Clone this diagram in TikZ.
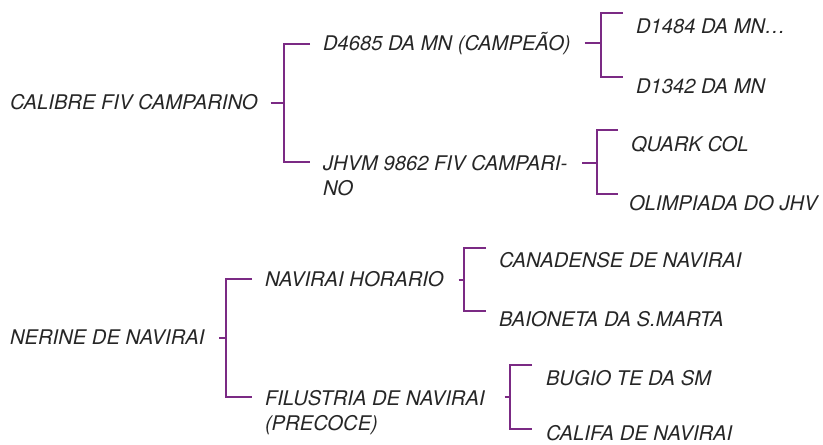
\documentclass[tikz,border=0pt]{standalone}
\usepackage{fontspec}
\setmainfont{TeX Gyre Heros}
\usepackage{tikz}
\definecolor{treepurple}{HTML}{7B2A84}
\tikzset{every node/.style={font=\fontsize{20.2}{25}\selectfont\itshape,
    text=black!85, inner sep=0pt, outer sep=0pt},
  lbl/.style={anchor=west},
  lbltwo/.style={anchor=north west, align=left},
  brk/.style={draw=treepurple, line width=2.8pt, line join=miter}}

\begin{document}
\begin{tikzpicture}[x=1pt,y=-1pt]
  \useasboundingbox (0,0) rectangle (823,445);
  % first tree
  \node[lbl] (cal) at (10,102) {CALIBRE FIV CAMPARINO};
  \node[lbl] (d4685) at (323,44) {D4685 DA MN (CAMPEÃO)};
  \node[lbltwo] (jhvm) at (323,155) {JHVM 9862 FIV CAMPARI-\\NO};
  \node[lbl] (d1484) at (636,26) {D1484 DA MN…};
  \node[lbl] (d1342) at (636,86) {D1342 DA MN};
  \node[lbl] (quark) at (631,144) {QUARK COL};
  \node[lbl] (olim) at (629,203) {OLIMPIADA DO JHV};
  \coordinate (j1) at (284,103);
  \coordinate (j2) at (601,43);
  \coordinate (j3) at (597,163);
  \draw[brk] ([xshift=13pt]cal.east |- j1) -- (j1);
  \draw[brk] ([xshift=-13pt]d4685.west) -| (j1) |- ([xshift=-13pt,yshift=-7pt]jhvm.north west);
  \draw[brk] ([xshift=14pt]d4685.east |- j2) -- (j2);
  \draw[brk] ([xshift=-13pt,yshift=13pt]d1484.west) -| (j2) |- ([xshift=-13pt,yshift=9pt]d1342.west);
  \draw[brk] ([xshift=15pt]jhvm.east |- j3) -- (j3);
  \draw[brk] ([xshift=-13pt,yshift=14pt]quark.west) -| (j3) |- ([xshift=-11pt,yshift=9pt]olim.west);
  % second tree
  \node[lbl] (ner) at (10,337) {NERINE DE NAVIRAI};
  \node[lbl] (nav) at (265,279) {NAVIRAI HORARIO};
  \node[lbltwo] (fil) at (265,390) {FILUSTRIA DE NAVIRAI\\(PRECOCE)};
  \node[lbl] (can) at (499,260) {CANADENSE DE NAVIRAI};
  \node[lbl] (bai) at (499,319) {BAIONETA DA S.MARTA};
  \node[lbl] (bug) at (546,378) {BUGIO TE DA SM};
  \node[lbl] (cali) at (546,433) {CALIFA DE NAVIRAI};
  \coordinate (j4) at (226,338);
  \coordinate (j5) at (464,280);
  \coordinate (j6) at (510,397);
  \draw[brk] ([xshift=15pt]ner.east |- j4) -- (j4);
  \draw[brk] ([xshift=-13pt]nav.west) -| (j4) |- ([xshift=-13pt,yshift=-7pt]fil.north west);
  \draw[brk] ([xshift=15pt]nav.east |- j5) -- (j5);
  \draw[brk] ([xshift=-13pt,yshift=12pt]can.west) -| (j5) |- ([xshift=-13pt,yshift=8pt]bai.west);
  \draw[brk] ([xshift=20pt]fil.east |- j6) -- (j6);
  \draw[brk] ([xshift=-14pt,yshift=13pt]bug.west) -| (j6) |- ([xshift=-14pt,yshift=4pt]cali.west);
\end{tikzpicture}
\end{document}
